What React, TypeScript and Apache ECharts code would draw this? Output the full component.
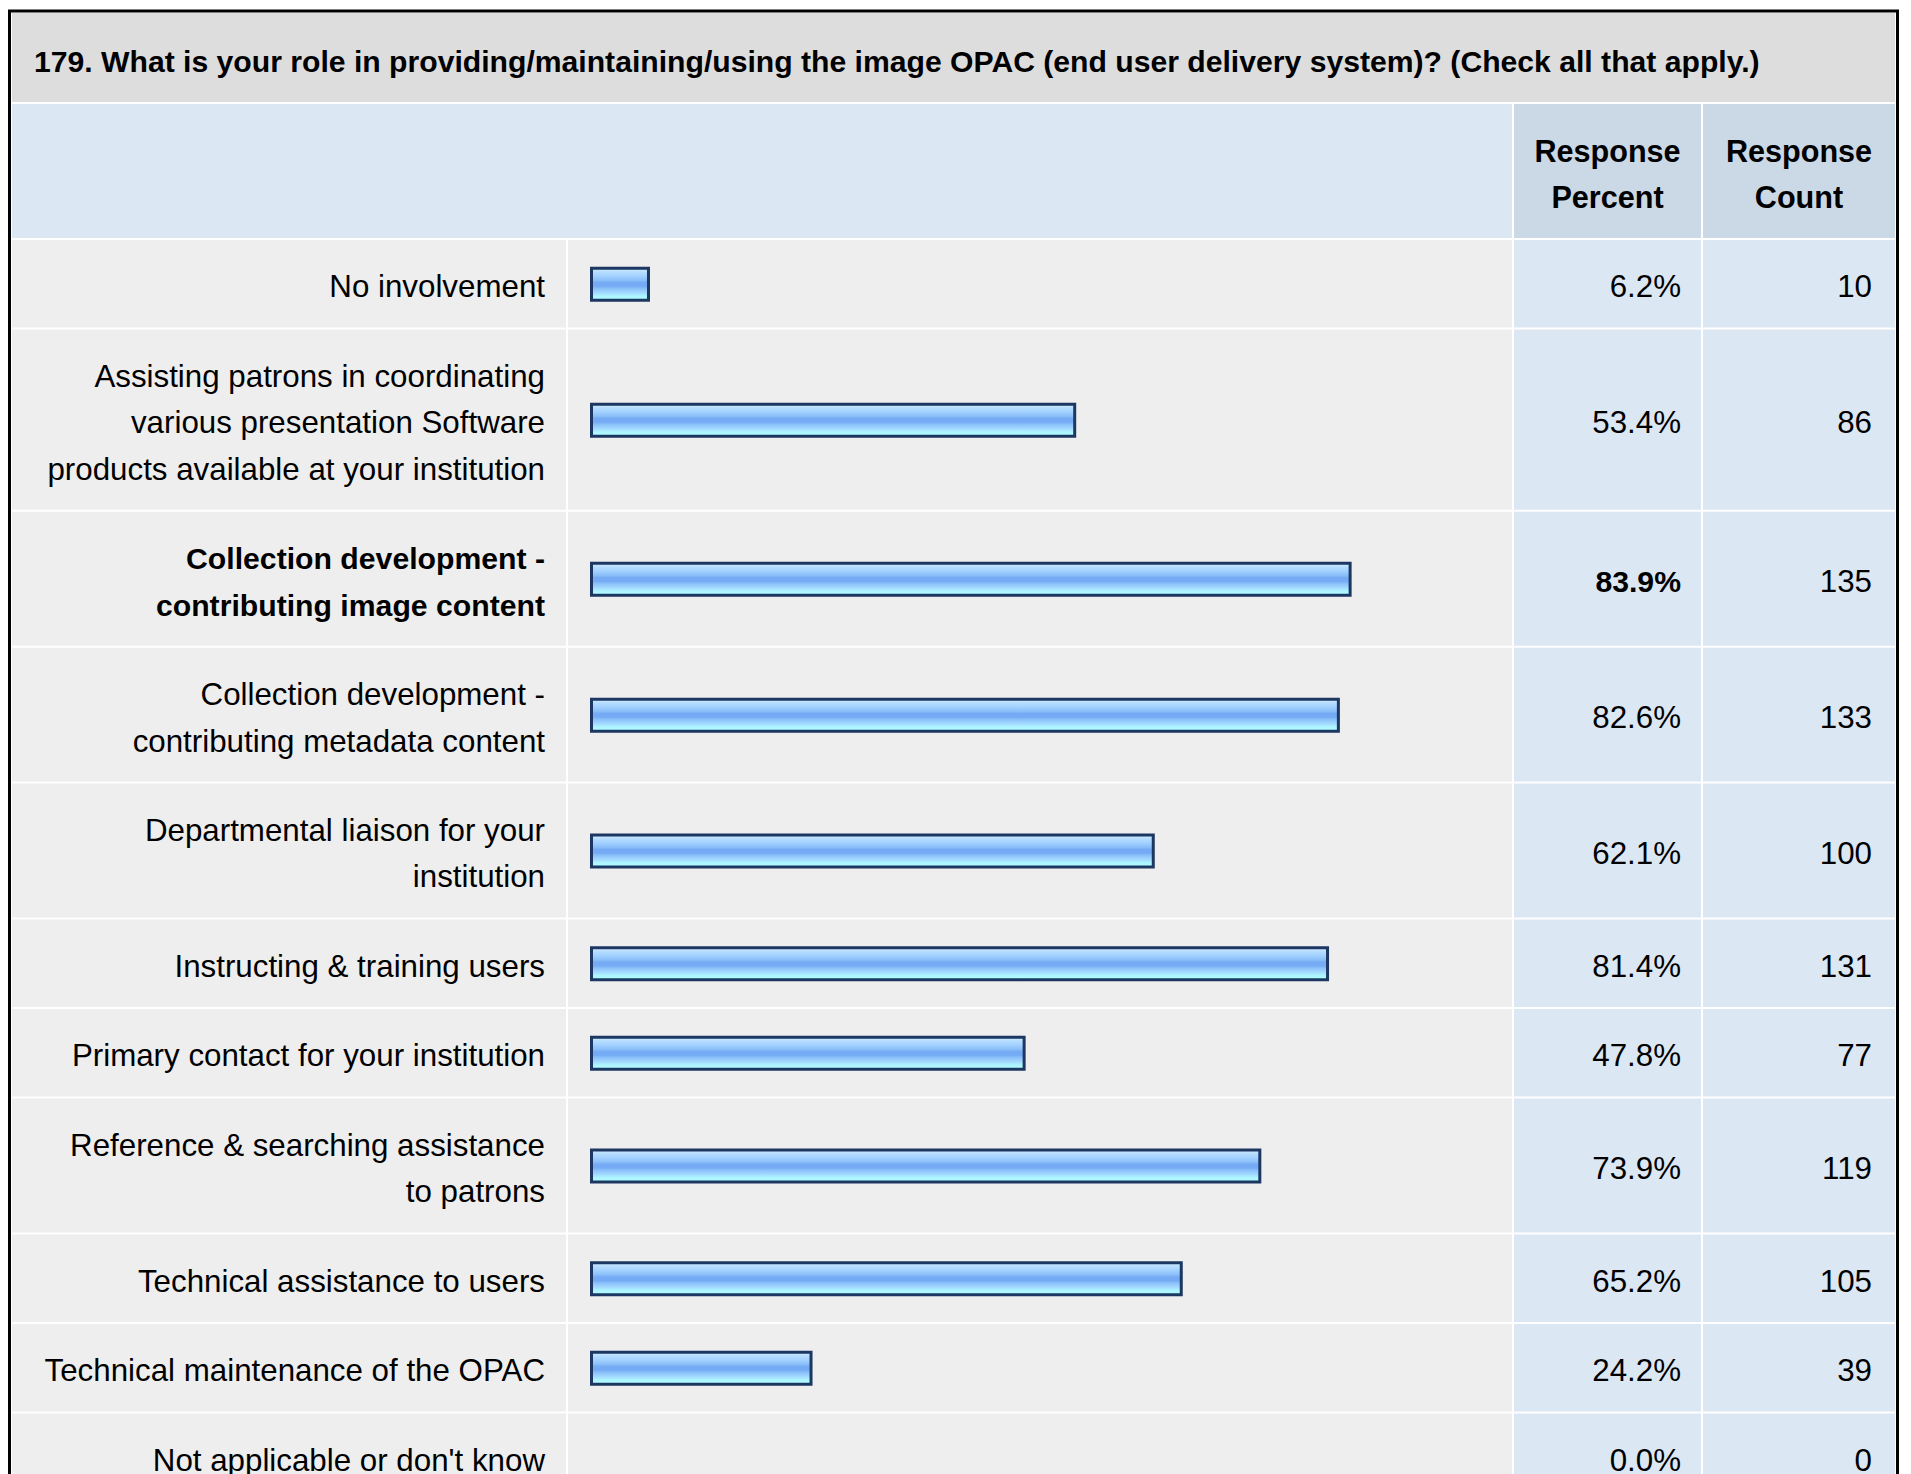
import React, { useEffect, useRef } from "react";
import * as echarts from "echarts";

// ---- data ----
const titleText =
  "179. What is your role in providing/maintaining/using the image OPAC (end user delivery system)? (Check all that apply.)";
const headerPercent = "Response\nPercent";
const headerCount = "Response\nCount";
const categories = [
  "No involvement",
  "Assisting patrons in coordinating\nvarious presentation Software\nproducts available at your institution",
  "Collection development -\ncontributing image content",
  "Collection development -\ncontributing metadata content",
  "Departmental liaison for your\ninstitution",
  "Instructing & training users",
  "Primary contact for your institution",
  "Reference & searching assistance\nto patrons",
  "Technical assistance to users",
  "Technical maintenance of the OPAC",
  "Not applicable or don't know",
];
const percents = [6.2, 53.4, 83.9, 82.6, 62.1, 81.4, 47.8, 73.9, 65.2, 24.2, 0.0];
const counts = [10, 86, 135, 133, 100, 131, 77, 119, 105, 39, 0];

// ---- layout ----
const W = 1911;
const H = 1474;
const FONT = "'Liberation Sans', Arial, Helvetica, sans-serif";
const TABLE_L = 12;
const LABEL_R = 566;
const BAR_L = 568;
const BAR_R = 1512;
const PCT_L = 1514;
const PCT_R = 1701;
const CNT_L = 1703;
const CNT_R = 1895;
const TITLE_T = 13;
const TITLE_B = 102;
const HEAD_T = 104;
const HEAD_B = 238;
const ROWS_T = 239;
const LINE_H = 46.4;
const ROW_PAD = 43.1;
const TEXT_SIZE = 31.3;
const BOLD_SIZE = 30.2;

const rowHeights = categories.map((c) => ROW_PAD + LINE_H * c.split("\n").length);
const rowTops: number[] = [];
{
  let t = ROWS_T;
  for (const h of rowHeights) {
    rowTops.push(t);
    t += h;
  }
}
const maxIdx = percents.indexOf(Math.max(...percents));

const barFill = {
  type: "linear",
  x: 0,
  y: 0,
  x2: 0,
  y2: 1,
  colorStops: [
    { offset: 0, color: "#d2ecff" },
    { offset: 0.12, color: "#b6ddff" },
    { offset: 0.26, color: "#a0cfff" },
    { offset: 0.38, color: "#8abef8" },
    { offset: 0.45, color: "#74abf4" },
    { offset: 0.56, color: "#74abf4" },
    { offset: 0.64, color: "#8cc2f9" },
    { offset: 0.76, color: "#a2d8ff" },
    { offset: 0.86, color: "#acf4ff" },
    { offset: 1, color: "#b2ffff" },
  ],
};

export default function App() {
  const ref = useRef<HTMLDivElement>(null);
  useEffect(() => {
    if (!ref.current) return;
    const chart = echarts.init(ref.current, null, { renderer: "svg" });
    const data = percents.map((p, i) => [p, counts[i], i]);
    const renderItem = (params: any, api: any) => {
      const pct = api.value(0);
      const cnt = api.value(1);
      const idx = api.value(2);
      const top = rowTops[idx];
      const h = rowHeights[idx];
      const cy = top + h / 2 + 0.5;
      const ty = cy + 2.7;
      const bold = idx === maxIdx;
      const x0 = api.coord([0, 0])[0];
      const x1 = api.coord([pct, 0])[0] + 1;
      const children: any[] = [
        { type: "rect", shape: { x: TABLE_L, y: top + 1, width: LABEL_R - TABLE_L, height: h - 2 }, style: { fill: "#eeeeee" } },
        { type: "rect", shape: { x: BAR_L, y: top + 1, width: BAR_R - BAR_L, height: h - 2 }, style: { fill: "#eeeeee" } },
        { type: "rect", shape: { x: PCT_L, y: top + 1, width: PCT_R - PCT_L, height: h - 2 }, style: { fill: "#dce7f4" } },
        { type: "rect", shape: { x: CNT_L, y: top + 1, width: CNT_R - CNT_L, height: h - 2 }, style: { fill: "#dce7f4" } },
        {
          type: "text",
          style: {
            text: categories[idx],
            x: 545,
            y: ty,
            align: "right",
            verticalAlign: "middle",
            fontSize: bold ? BOLD_SIZE : TEXT_SIZE,
            fontFamily: FONT,
            fontWeight: bold ? "bold" : "normal",
            lineHeight: LINE_H,
            fill: "#000000",
          },
        },
        {
          type: "text",
          style: {
            text: pct.toFixed(1) + "%",
            x: 1681,
            y: ty,
            align: "right",
            verticalAlign: "middle",
            fontSize: bold ? BOLD_SIZE : TEXT_SIZE,
            fontFamily: FONT,
            fontWeight: bold ? "bold" : "normal",
            fill: "#000000",
          },
        },
        {
          type: "text",
          style: {
            text: String(cnt),
            x: 1872,
            y: ty,
            align: "right",
            verticalAlign: "middle",
            fontSize: TEXT_SIZE,
            fontFamily: FONT,
            fill: "#000000",
          },
        },
      ];
      if (pct > 0) {
        children.push({
          type: "rect",
          shape: { x: x0, y: cy - 16, width: x1 - x0, height: 32 },
          style: { fill: barFill, stroke: "#1c3761", lineWidth: 3 },
        });
      }
      return { type: "group", children };
    };

    chart.setOption({
      animation: false,
      backgroundColor: "#ffffff",
      grid: { left: 591.5, width: 903, top: 0, bottom: 0 },
      xAxis: { type: "value", min: 0, max: 100, show: false },
      yAxis: { type: "value", min: 0, max: 1, show: false },
      graphic: [
        { type: "rect", z: 0, shape: { x: TABLE_L, y: TITLE_T, width: CNT_R - TABLE_L, height: TITLE_B - TITLE_T }, style: { fill: "#dddddd" } },
        { type: "rect", z: 0, shape: { x: TABLE_L, y: HEAD_T, width: BAR_R - TABLE_L, height: HEAD_B - HEAD_T }, style: { fill: "#dce7f4" } },
        { type: "rect", z: 0, shape: { x: PCT_L, y: HEAD_T, width: PCT_R - PCT_L, height: HEAD_B - HEAD_T }, style: { fill: "#cbd8e6" } },
        { type: "rect", z: 0, shape: { x: CNT_L, y: HEAD_T, width: CNT_R - CNT_L, height: HEAD_B - HEAD_T }, style: { fill: "#cbd8e6" } },
        {
          type: "text",
          z: 5,
          style: {
            text: titleText,
            x: 34,
            y: 61.3,
            align: "left",
            verticalAlign: "middle",
            fontSize: 30.15,
            fontWeight: "bold",
            fontFamily: FONT,
            fill: "#000000",
          },
        },
        {
          type: "text",
          z: 5,
          style: {
            text: headerPercent,
            x: (PCT_L + PCT_R) / 2,
            y: 173.8,
            align: "center",
            verticalAlign: "middle",
            fontSize: 30.6,
            fontWeight: "bold",
            fontFamily: FONT,
            lineHeight: LINE_H,
            fill: "#000000",
          },
        },
        {
          type: "text",
          z: 5,
          style: {
            text: headerCount,
            x: (CNT_L + CNT_R) / 2,
            y: 173.8,
            align: "center",
            verticalAlign: "middle",
            fontSize: 30.6,
            fontWeight: "bold",
            fontFamily: FONT,
            lineHeight: LINE_H,
            fill: "#000000",
          },
        },
        {
          type: "rect",
          z: 100,
          shape: { x: 9.5, y: 11, width: 1888, height: 1520 },
          style: { fill: "none", stroke: "#000000", lineWidth: 3 },
        },
      ],
      series: [
        {
          type: "custom",
          coordinateSystem: "cartesian2d",
          renderItem,
          data,
          clip: false,
          silent: true,
          z: 2,
        },
      ],
    });
    return () => chart.dispose();
  }, []);
  return (
    <div
      ref={ref}
      style={{ position: "fixed", left: 0, top: 0, width: W, height: H, background: "#ffffff" }}
    />
  );
}
